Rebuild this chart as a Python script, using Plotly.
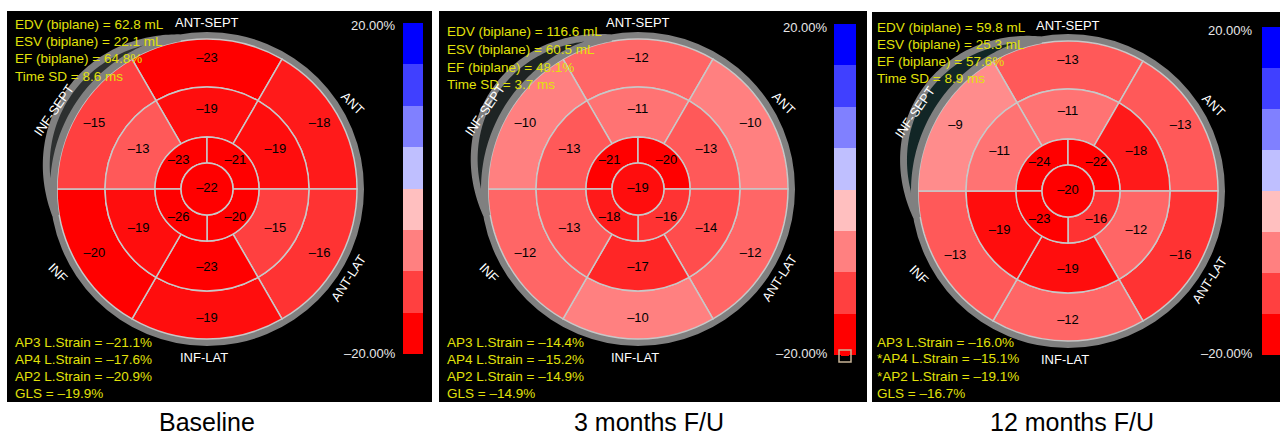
import numpy as np
import plotly.graph_objects as go

W, H = 1280, 437

# ---------------- data ----------------
panel_titles = ["Baseline", "3 months F/U", "12 months F/U"]
wall_labels = ["ANT-SEPT", "ANT", "ANT-LAT", "INF-LAT", "INF", "INF-SEPT"]

# basal / mid rings ordered: ANT-SEPT, ANT, ANT-LAT, INF-LAT, INF, INF-SEPT
basal_baseline = [-23, -18, -16, -19, -20, -15]
mid_baseline = [-19, -19, -15, -23, -19, -13]
# apical ring ordered: upper-left, upper-right, lower-right, lower-left
apical_baseline = [-23, -21, -20, -26]
apex_baseline = -22

basal_3m = [-12, -10, -12, -10, -12, -10]
mid_3m = [-11, -13, -14, -17, -13, -13]
apical_3m = [-21, -20, -16, -18]
apex_3m = -19

basal_12m = [-13, -13, -16, -12, -13, -9]
mid_12m = [-11, -18, -12, -19, -19, -11]
apical_12m = [-24, -22, -16, -23]
apex_12m = -20

info_top_baseline = ["EDV (biplane) = 62.8 mL", "ESV (biplane) = 22.1 mL",
                     "EF (biplane) = 64.8%", "Time SD = 8.6 ms"]
info_bottom_baseline = ["AP3 L.Strain = –21.1%", "AP4 L.Strain = –17.6%",
                        "AP2 L.Strain = –20.9%", "GLS = –19.9%"]
info_top_3m = ["EDV (biplane) = 116.6 mL", "ESV (biplane) = 60.5 mL",
               "EF (biplane) = 48.1%", "Time SD = 3.7 ms"]
info_bottom_3m = ["AP3 L.Strain = –14.4%", "AP4 L.Strain = –15.2%",
                  "AP2 L.Strain = –14.9%", "GLS = –14.9%"]
info_top_12m = ["EDV (biplane) = 59.8 mL", "ESV (biplane) = 25.3 mL",
                "EF (biplane) = 57.6%", "Time SD = 8.9 ms"]
info_bottom_12m = ["AP3 L.Strain = –16.0%", "*AP4 L.Strain = –15.1%",
                   "*AP2 L.Strain = –19.1%", "GLS = –16.7%"]

scale_min, scale_max = -20, 20
scale_labels = ["20.00%", "–20.00%"]
colorbar_levels = [-20, -15, -10, -5, 5, 10, 15, 20]

panels_data = [
    (basal_baseline, mid_baseline, apical_baseline, apex_baseline, info_top_baseline, info_bottom_baseline),
    (basal_3m, mid_3m, apical_3m, apex_3m, info_top_3m, info_bottom_3m),
    (basal_12m, mid_12m, apical_12m, apex_12m, info_top_12m, info_bottom_12m),
]

# ---------------- geometry / style ----------------
FONT = "Liberation Sans, Arial, sans-serif"
STRAIN_SCALE = [[0.0, "rgb(255,0,0)"], [0.5, "rgb(255,255,255)"], [1.0, "rgb(0,0,255)"]]
R_RANGE = 185  # radial units == pixels
R_APEX, R_APICAL, R_MID, R_BASAL, R_RING = 26, 52, 102, 150, 157
SIX_THETA = [90, 30, 330, 270, 210, 150]
FOUR_THETA = [135, 45, 315, 225]
YELLOW = "rgb(226,226,10)"

layouts = [
    dict(box=(7, 11, 432, 402), center=(207, 189), tx=13, top_y=[24, 41, 58, 76],
         bot_y=[342, 359, 376, 393], bar=(403, 23, 423, 354), lab_x=398, lab_y=(25, 353),
         cap=(207, 422), bulge=15, dark="rgb(45,48,48)"),
    dict(box=(439, 11, 867, 402), center=(638, 189), tx=445, top_y=[32, 50, 67, 84],
         bot_y=[342, 359, 376, 393], bar=(834, 24, 856, 355), lab_x=830, lab_y=(27, 353),
         cap=(649, 422), bulge=20, dark="rgb(30,36,36)"),
    dict(box=(872, 12, 1282, 402), center=(1068, 191), tx=875, top_y=[27, 44, 61, 79],
         bot_y=[342, 358, 376, 393], bar=(1262, 27, 1282, 355), lab_x=1255, lab_y=(30, 353),
         cap=(1072, 422), bulge=21, dark="rgb(18,38,38)"),
]
wall_offsets = [(0, -166, 0), (146, -86, 45), (141, 89, -57), (-3, 168, 0), (-149, 83, 45), (-153, -78, -55)]


def px(x):
    return x / W


def py(y):
    return 1 - y / H


fig = go.Figure()
shapes, annotations = [], []

for i, (lay, dat) in enumerate(zip(layouts, panels_data)):
    basal, mid, apical, apex, info_top, info_bot = dat
    pid = "" if i == 0 else str(i + 1)
    polar_name = "polar" + pid
    cx, cy = lay["center"]

    # black panel
    x0, y0, x1, y1 = lay["box"]
    shapes.append(dict(type="rect", xref="paper", yref="paper", x0=px(x0), x1=px(x1),
                       y0=py(y1), y1=py(y0), fillcolor="black", line=dict(width=0), layer="below"))

    # grey outer ring
    fig.add_trace(go.Barpolar(r=[R_RING - R_BASAL], base=[R_BASAL], theta=[0], width=[360],
                              marker=dict(color="rgb(128,128,128)", line=dict(width=0)),
                              subplot=polar_name, hoverinfo="skip", showlegend=False))
    # grey crescent near INF-SEPT
    th = np.arange(100, 191, 1.0)
    r_out = R_RING + lay["bulge"] * np.sin(np.pi * (th - 100) / 90)
    fig.add_trace(go.Scatterpolar(r=np.concatenate([r_out, np.full_like(th, R_BASAL)[::-1]]),
                                  theta=np.concatenate([th, th[::-1]]), mode="lines",
                                  fill="toself", fillcolor="rgb(128,128,128)", line=dict(width=0),
                                  subplot=polar_name, hoverinfo="skip", showlegend=False))
    r_dark = np.maximum(r_out - 7, R_RING)
    fig.add_trace(go.Scatterpolar(r=np.concatenate([r_dark, np.full_like(th, R_RING)[::-1]]),
                                  theta=np.concatenate([th, th[::-1]]), mode="lines",
                                  fill="toself", fillcolor=lay["dark"], line=dict(width=0),
                                  subplot=polar_name, hoverinfo="skip", showlegend=False))

    # 17 segments
    values = list(basal) + list(mid) + list(apical) + [apex]
    r_len = [R_BASAL - R_MID] * 6 + [R_MID - R_APICAL] * 6 + [R_APICAL - R_APEX] * 4 + [R_APEX]
    bases = [R_MID] * 6 + [R_APICAL] * 6 + [R_APEX] * 4 + [0]
    thetas = SIX_THETA + SIX_THETA + FOUR_THETA + [0]
    widths = [60] * 12 + [90] * 4 + [360]
    fig.add_trace(go.Barpolar(r=r_len, base=bases, theta=thetas, width=widths,
                              marker=dict(color=values, colorscale=STRAIN_SCALE, cmin=scale_min,
                                          cmax=scale_max, line=dict(color="rgb(200,200,200)", width=1.5)),
                              subplot=polar_name, hoverinfo="skip", showlegend=False))
    # segment values
    lab_r = [130] * 6 + [79] * 6 + [40] * 4 + [0]
    fig.add_trace(go.Scatterpolar(r=lab_r, theta=thetas, mode="text",
                                  text=[f"–{abs(v)}" for v in values],
                                  textfont=dict(family=FONT, size=13, color="black"),
                                  subplot=polar_name, hoverinfo="skip", showlegend=False))

    fig.update_layout(**{polar_name: dict(
        domain=dict(x=[px(cx - R_RANGE), px(cx + R_RANGE)], y=[py(cy + R_RANGE), py(cy - R_RANGE)]),
        bgcolor="rgba(0,0,0,0)",
        radialaxis=dict(range=[0, R_RANGE], visible=False),
        angularaxis=dict(visible=False, rotation=0, direction="counterclockwise"),
        barmode="overlay",
    )})

    # colour bar as heatmap column
    bx0, by0, bx1, by1 = lay["bar"]
    fig.add_trace(go.Heatmap(z=[[v] for v in colorbar_levels], colorscale=STRAIN_SCALE,
                             zmin=scale_min, zmax=scale_max, showscale=False, hoverinfo="skip",
                             xaxis="x" + pid, yaxis="y" + pid))
    fig.update_layout(**{
        "xaxis" + pid: dict(domain=[px(bx0), min(px(bx1), 1)], anchor="y" + pid, visible=False,
                            range=[-0.5, 0.5], fixedrange=True),
        "yaxis" + pid: dict(domain=[py(by1), py(by0)], anchor="x" + pid, visible=False,
                            range=[-0.5, len(colorbar_levels) - 0.5], fixedrange=True),
    })
    for lbl, yy in zip(scale_labels, lay["lab_y"]):
        annotations.append(dict(x=px(lay["lab_x"]), y=py(yy), xref="paper", yref="paper", text=lbl,
                                showarrow=False, xanchor="right", yanchor="middle",
                                font=dict(family=FONT, size=13, color="rgb(232,232,232)")))

    # info text
    for txt, yy in zip(info_top, lay["top_y"]):
        annotations.append(dict(x=px(lay["tx"]), y=py(yy), xref="paper", yref="paper", text=txt,
                                showarrow=False, xanchor="left", yanchor="middle",
                                font=dict(family=FONT, size=13.5, color=YELLOW)))
    for txt, yy in zip(info_bot, lay["bot_y"]):
        annotations.append(dict(x=px(lay["tx"]), y=py(yy), xref="paper", yref="paper", text=txt,
                                showarrow=False, xanchor="left", yanchor="middle",
                                font=dict(family=FONT, size=13.5, color=YELLOW)))

    # wall labels
    for name, (dx, dy, ang) in zip(wall_labels, wall_offsets):
        annotations.append(dict(x=px(cx + dx), y=py(cy + dy), xref="paper", yref="paper", text=name,
                                showarrow=False, xanchor="center", yanchor="middle", textangle=ang,
                                font=dict(family=FONT, size=13, color="white")))

    # caption
    annotations.append(dict(x=px(lay["cap"][0]), y=py(lay["cap"][1]), xref="paper", yref="paper",
                            text=panel_titles[i], showarrow=False, xanchor="center", yanchor="middle",
                            borderpad=0, font=dict(family=FONT, size=25, color="black")))

# small icon near the 3-month colour bar
shapes.append(dict(type="rect", xref="paper", yref="paper", x0=px(839), x1=px(851), y0=py(362), y1=py(350),
                   line=dict(color="rgb(200,180,150)", width=1.5), fillcolor="rgba(0,0,0,0)"))
shapes.append(dict(type="rect", xref="paper", yref="paper", x0=px(841), x1=px(849), y0=py(356), y1=py(352),
                   line=dict(width=0), fillcolor="rgb(255,0,0)"))

fig.update_layout(width=W, height=H, margin=dict(l=0, r=0, t=0, b=0), paper_bgcolor="white",
                  plot_bgcolor="rgba(0,0,0,0)", shapes=shapes, annotations=annotations, showlegend=False)

fig.write_html("out.html", config={"displayModeBar": False},
               post_script="document.body.style.margin='0px';")
